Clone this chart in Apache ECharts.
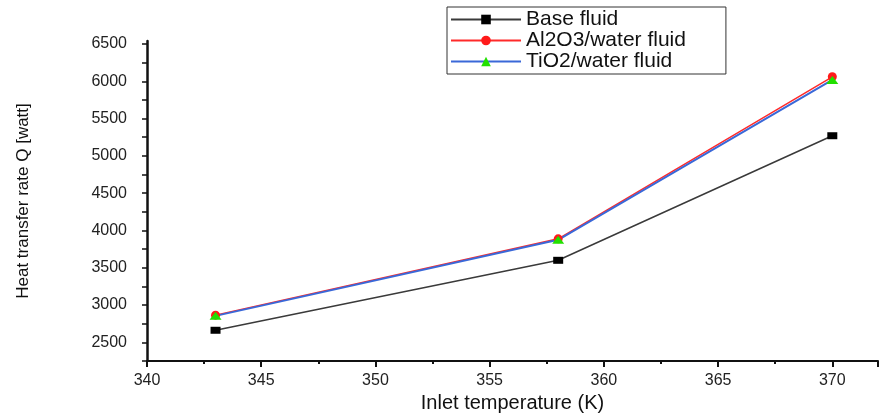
<!DOCTYPE html>
<html>
<head>
<meta charset="utf-8">
<script src="https://cdn.jsdelivr.net/npm/echarts@6/dist/echarts.min.js"></script>
<style>
  html, body { margin: 0; padding: 0; background: #fff; }
  #main { width: 880px; height: 415px; }
</style>
</head>
<body>
<div id="main"></div>
<script>
// 入口温度 (K)
const temps = [343, 358, 370]
// 各流体的传热率 Q [watt]
const baseFluid = [2662, 3600, 5270]
const al2o3Fluid = [2865, 3888, 6060]
const tio2Fluid = [2855, 3875, 6018]
const seriesNames = ['Base fluid', 'Al2O3/water fluid', 'TiO2/water fluid']

function pairs(xs, ys) {
  return xs.map((x, i) => [x, ys[i]])
}

(function () {
  let myChart = echarts.init(document.getElementById('main'))
  let font = 'Liberation Sans, Arial, sans-serif'
  let option = {
    animation: false,
    grid: {
      left: 147,
      right: 2,
      top: 41,
      bottom: 54,
      // 不让 v6 自动收缩网格来容纳标签
      outerBoundsMode: 'none',
      containLabel: false
    },
    legend: {
      orient: 'vertical',
      left: 447,
      top: 7,
      padding: [2, 40, 2, 3],
      itemWidth: 70,
      itemHeight: 12,
      itemGap: 0,
      borderColor: '#333',
      borderWidth: 1,
      textStyle: {
        fontFamily: font,
        fontSize: 21,
        color: '#111'
      },
      data: seriesNames
    },
    xAxis: {
      type: 'value',
      min: 340,
      max: 372,
      interval: 5,
      name: 'Inlet temperature (K)',
      nameLocation: 'middle',
      nameGap: 30,
      nameTextStyle: {
        fontFamily: font,
        fontSize: 20,
        color: '#111'
      },
      axisLine: { lineStyle: { color: '#111', width: 2 } },
      axisTick: { length: 6, lineStyle: { color: '#111', width: 2 } },
      minorTick: { show: true, splitNumber: 2, length: 3, lineStyle: { color: '#111', width: 2 } },
      splitLine: { show: false },
      axisLabel: {
        showMaxLabel: false,
        margin: 12,
        fontFamily: font,
        fontSize: 16,
        color: '#222'
      }
    },
    yAxis: {
      type: 'value',
      min: 2250,
      max: 6540,
      interval: 250,
      name: 'Heat transfer rate Q [watt]',
      nameLocation: 'middle',
      nameGap: 115,
      nameTextStyle: {
        fontFamily: 'Liberation Sans Narrow, Liberation Sans, Arial, sans-serif',
        fontSize: 17,
        color: '#111'
      },
      axisLine: { show: true, lineStyle: { color: '#111', width: 2.5 } },
      axisTick: { length: 5, lineStyle: { color: '#111', width: 1.5 } },
      splitLine: { show: false },
      axisLabel: {
        showMaxLabel: false,
        margin: 20,
        fontFamily: font,
        fontSize: 16,
        color: '#222',
        formatter: function (v) {
          return v % 500 === 0 ? String(v) : ''
        }
      }
    },
    series: [
      {
        name: seriesNames[0],
        type: 'line',
        data: pairs(temps, baseFluid),
        symbol: 'rect',
        symbolSize: [10, 7],
        lineStyle: { color: '#3a3a3a', width: 1.5 },
        itemStyle: { color: '#000' }
      },
      {
        name: seriesNames[1],
        type: 'line',
        data: pairs(temps, al2o3Fluid),
        symbol: 'circle',
        symbolSize: 9,
        lineStyle: { color: '#ff2a2a', width: 1.5 },
        itemStyle: { color: '#ff1a1a' }
      },
      {
        name: seriesNames[2],
        type: 'line',
        data: pairs(temps, tio2Fluid),
        symbol: 'triangle',
        symbolSize: [12, 8],
        lineStyle: { color: '#3a68d8', width: 2 },
        itemStyle: { color: '#22e000' }
      }
    ]
  }

  myChart.setOption(option)
})();
</script>
</body>
</html>
